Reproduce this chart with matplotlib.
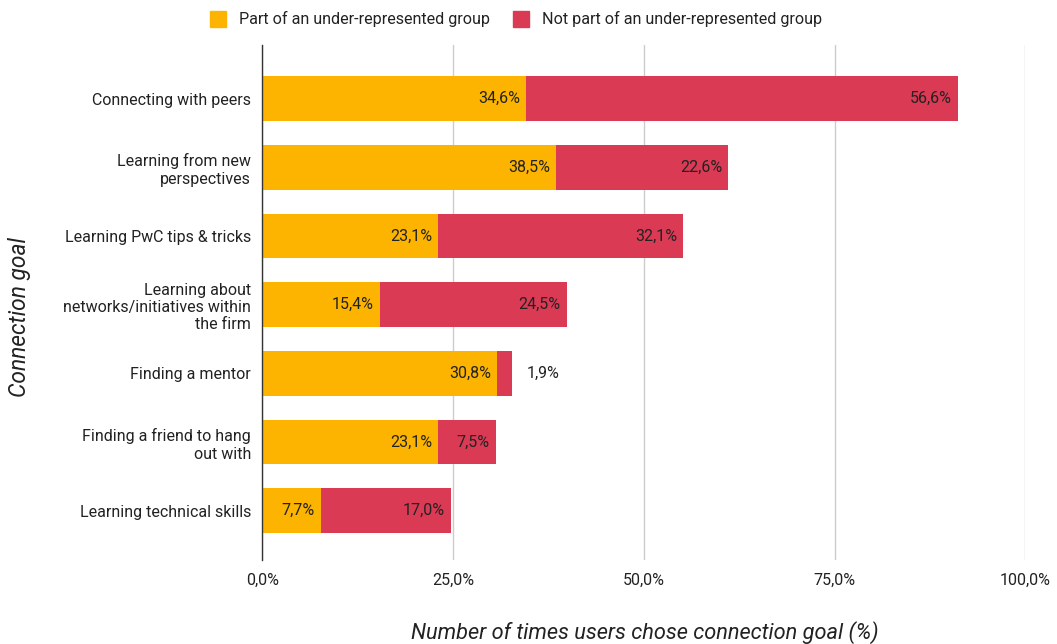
import matplotlib
matplotlib.use("Agg")
import matplotlib.pyplot as plt
from matplotlib.patches import Patch

plt.rcParams['font.family'] = ['Roboto', 'DejaVu Sans']

categories = [
    "Connecting with peers",
    "Learning from new\nperspectives",
    "Learning PwC tips & tricks",
    "Learning about\nnetworks/initiatives within\nthe firm",
    "Finding a mentor",
    "Finding a friend to hang\nout with",
    "Learning technical skills",
]
under_rep = [34.6, 38.5, 23.1, 15.4, 30.8, 23.1, 7.7]
not_under_rep = [56.6, 22.6, 32.1, 24.5, 1.9, 7.5, 17.0]
series_names = ["Part of an under-represented group", "Not part of an under-represented group"]
xticks = [0, 25, 50, 75, 100]

c1 = "#FDB400"
c2 = "#DA3A54"
txt = "#222222"

fig = plt.figure(figsize=(10.57, 6.44), dpi=100)
ax = fig.add_axes([0.248, 0.130, 0.722, 0.800])

y = list(range(len(categories)))
h = 0.65
ax.barh(y, under_rep, height=h, color=c1, zorder=3)
ax.barh(y, not_under_rep, left=under_rep, height=h, color=c2, zorder=3)

def fmt(v):
    return f"{v:.1f}".replace(".", ",") + "%"

fs = 11.5
for i in y:
    a = under_rep[i]
    b = not_under_rep[i]
    ax.text(a - 0.8, i, fmt(a), ha="right", va="center", fontsize=fs, color=txt, zorder=4)
    if b >= 4:
        ax.text(a + b - 0.8, i, fmt(b), ha="right", va="center", fontsize=fs, color=txt, zorder=4)
    else:
        ax.text(a + b + 2.0, i, fmt(b), ha="left", va="center", fontsize=fs, color=txt, zorder=4)

ax.set_xlim(0, 100)
ax.set_ylim(6.72, -0.78)
ax.set_xticks(xticks)
ax.set_xticklabels([f"{t:.1f}".replace(".", ",") + "%" for t in xticks], fontsize=11.5, color=txt)
ax.set_yticks(y)
ax.set_yticklabels(categories, fontsize=11.5, color=txt, ha="right", multialignment="right")
ax.tick_params(axis="both", length=0)
ax.tick_params(axis="x", pad=9)
ax.tick_params(axis="y", pad=8)
ax.grid(axis="x", color="#CCCCCC", linewidth=1, zorder=0)
for s in ["top", "right", "bottom"]:
    ax.spines[s].set_visible(False)
ax.spines["left"].set_color("#333333")
ax.spines["left"].set_linewidth(1)
ax.spines["left"].set_zorder(5)

fig.text(0.610, 0.018, "Number of times users chose connection goal (%)", fontsize=15.7, style="italic",
         color=txt, ha="center", va="center")
fig.text(0.018, 0.508, "Connection goal", rotation=90, fontsize=16.4, style="italic",
         color=txt, ha="center", va="center")

handles = [Patch(facecolor=c1, edgecolor=c1), Patch(facecolor=c2, edgecolor=c2)]
fig.legend(handles, series_names, loc="center", bbox_to_anchor=(0.488, 0.970), ncol=2,
           frameon=False, fontsize=11.6, handlelength=1.0, handleheight=1.1,
           columnspacing=1.4, handletextpad=0.8, labelcolor=txt)

fig.savefig("out.png", dpi=100)
